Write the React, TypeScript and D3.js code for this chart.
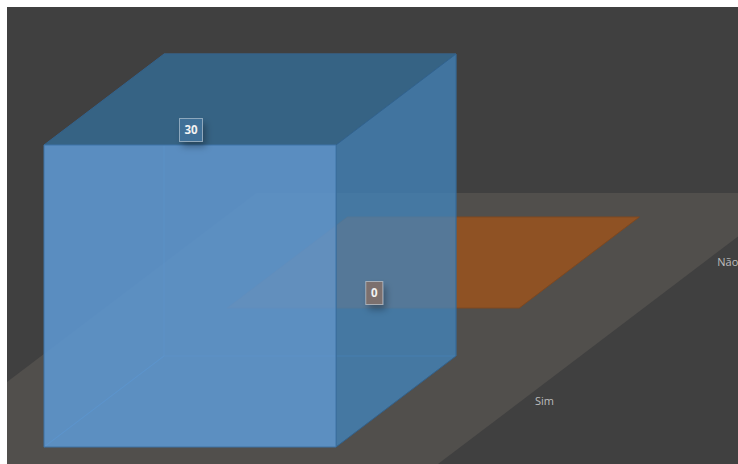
import React from "react";
import * as d3 from "d3";

const categories = ["Sim", "Não"];
const values = [30, 0];
const valueLabels = ["30", "0"];

const WIDTH = 738, HEIGHT = 464, INSET = 7;
const originX = 44, originY = 447;
const barWidth = 292, barDepth = 91, depthRatio = 120 / 91;

const depth = d3.scalePoint<string>().domain(categories).range([0, 139]);
const heightScale = d3.scaleLinear().domain([0, 30]).range([0, 302]);
const floorDepth = 254;
const floorX: [number, number] = [-122.7, 416.4];
const floorFront = -40;

const project = (x: number, d: number, h: number): [number, number] => [
  originX + x + d * depthRatio,
  originY - d - h,
];
const poly = d3.line<[number, number]>().x((p) => p[0]).y((p) => p[1]);
const face = (pts: [number, number, number][]) =>
  (poly(pts.map(([x, d, h]) => project(x, d, h))) ?? "") + "Z";

export default function App() {
  const [sim, nao] = categories;
  const d0 = depth(sim)!;
  const h0 = heightScale(values[0]);
  const d1 = depth(nao)!;
  const h1 = heightScale(values[1]);
  const dEnd0 = d0 + barDepth;
  const dEnd1 = d1 + barDepth;
  const floorPath = face([
    [floorX[0], floorDepth, 0],
    [floorX[1], floorDepth, 0],
    [floorX[1], floorFront, 0],
    [floorX[0], floorFront, 0],
  ]);
  const labelBox = (i: number) => {
    const d = i === 0 ? d0 : d1;
    const h = i === 0 ? h0 : h1;
    const [cx, cy] = project(barWidth / 2, d, h);
    return { cx: cx + 1, cy: cy - 15 };
  };
  const boxes = [
    { w: 23, fill: "#3f6f97" },
    { w: 17, fill: "#7b706e" },
  ];
  return (
    <svg
      width={WIDTH}
      height={HEIGHT}
      style={{ position: "absolute", left: 0, top: 0, background: "#fff" }}
      fontFamily="'Open Sans', 'Noto Sans', sans-serif"
    >
      <defs>
        <clipPath id="plot">
          <rect x={INSET} y={INSET} width={WIDTH - INSET} height={HEIGHT - INSET} />
        </clipPath>
        <filter id="labelShadow" x="-80%" y="-80%" width="300%" height="300%">
          <feDropShadow dx="3" dy="5" stdDeviation="3.5" floodColor="#000" floodOpacity="0.3" />
        </filter>
      </defs>
      <g clipPath="url(#plot)">
        <rect x={INSET} y={INSET} width={WIDTH - INSET} height={HEIGHT - INSET} fill="#404040" />
        <path d={floorPath} fill="#514f4c" />

        {/* Não: flat bar */}
        <path
          d={face([
            [0, d1, h1],
            [barWidth, d1, h1],
            [barWidth, dEnd1, h1],
            [0, dEnd1, h1],
          ])}
          fill="#8f5224"
          stroke="#7e4820"
          strokeWidth={1}
        />

        {/* Sim: inner faces seen through the bar */}
        <path
          d={face([
            [0, dEnd0, 0],
            [0, dEnd0, h0],
            [barWidth, dEnd0, h0],
            [barWidth, dEnd0, 0],
          ])}
          fill="none"
          stroke="#4f8ec6"
          strokeOpacity={0.45}
        />
        <path
          d={face([
            [0, d0, 0],
            [0, dEnd0, 0],
          ])}
          fill="none"
          stroke="#4f8ec6"
          strokeOpacity={0.6}
        />

        {/* Sim: top */}
        <path
          d={face([
            [0, d0, h0],
            [barWidth, d0, h0],
            [barWidth, dEnd0, h0],
            [0, dEnd0, h0],
          ])}
          fill="#366384"
          stroke="#33628c"
        />
        {/* Sim: side */}
        <path
          d={face([
            [barWidth, d0, 0],
            [barWidth, dEnd0, 0],
            [barWidth, dEnd0, h0],
            [barWidth, d0, h0],
          ])}
          fill="#4185bf"
          fillOpacity={0.75}
          stroke="#33628c"
        />
        {/* Sim: front */}
        <path
          d={face([
            [0, d0, 0],
            [barWidth, d0, 0],
            [barWidth, d0, h0],
            [0, d0, h0],
          ])}
          fill="#5d96ce"
          fillOpacity={0.9}
          stroke="#3f73a3"
        />

        {values.map((_, i) => {
          const { cx, cy } = labelBox(i);
          const b = boxes[i];
          return (
            <g key={categories[i]}>
              <rect
                x={cx - b.w / 2}
                y={cy - 11.5}
                width={b.w}
                height={23}
                fill={b.fill}
                stroke="#ffffff"
                strokeOpacity={0.42}
                filter="url(#labelShadow)"
              />
              <text x={cx} y={cy + 4} textAnchor="middle" fontSize={11.5} fontWeight={700} fill="#f2f2f2">
                {valueLabels[i]}
              </text>
            </g>
          );
        })}

        {categories.map((c) => {
          const [x, y] = project(barWidth + 148, depth(c)! + barDepth / 2, 0);
          return (
            <text key={c} x={x + 0.5} y={y + 3.5} textAnchor="middle" fontSize={11} fill="#bdbdbd">
              {c}
            </text>
          );
        })}
      </g>
    </svg>
  );
}
